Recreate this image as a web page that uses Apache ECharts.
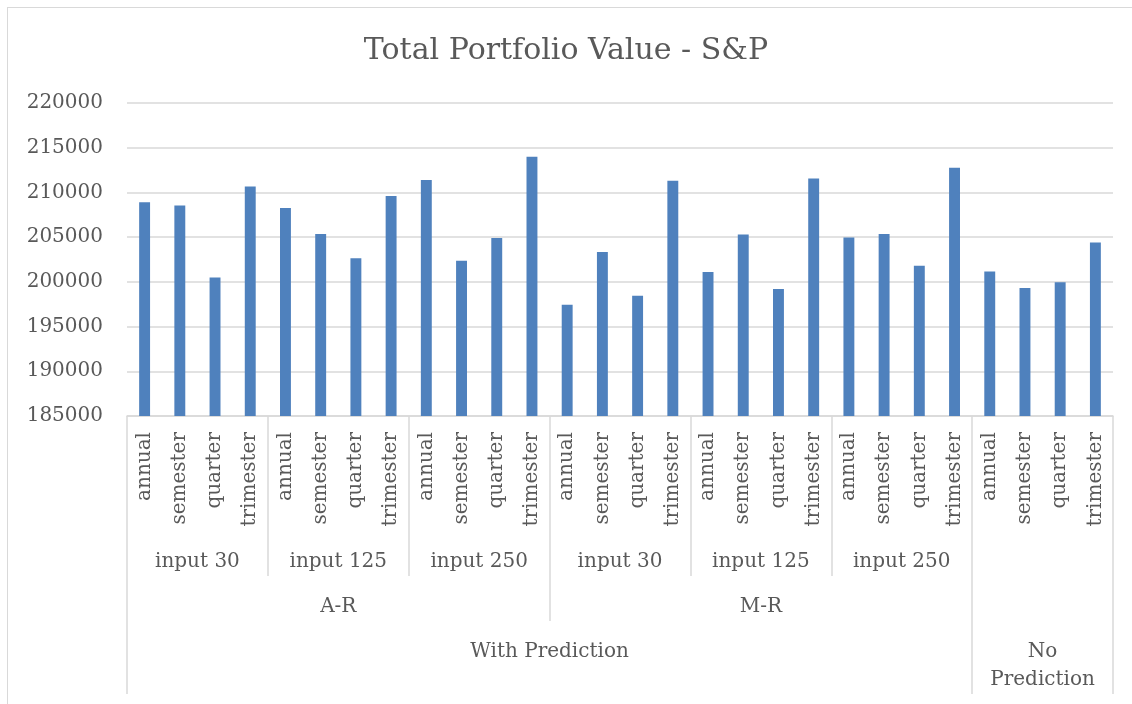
<!doctype html>
<html>

<head>
    <meta charset="utf-8">
    <title>Total Portfolio Value - S&amp;P</title>
    <style>
        html, body {
            margin: 0;
            padding: 0;
            background: #fff;
        }

        #frame {
            position: absolute;
            left: 7px;
            top: 7px;
            width: 1140px;
            height: 720px;
            border-left: 1px solid #d9d9d9;
            border-top: 1px solid #d9d9d9;
        }

        #chart {
            position: absolute;
            left: 0;
            top: 0;
            width: 1132px;
            height: 704px;
        }
    </style>
</head>

<body>
    <div id="frame"></div>
    <div id="chart"></div>
    <script src="https://cdn.jsdelivr.net/npm/echarts@6/dist/echarts.min.js"></script>
    <script>
        // bottom level: the frequency of each bar
        var periods = ['annual', 'semester', 'quarter', 'trimester',
            'annual', 'semester', 'quarter', 'trimester',
            'annual', 'semester', 'quarter', 'trimester',
            'annual', 'semester', 'quarter', 'trimester',
            'annual', 'semester', 'quarter', 'trimester',
            'annual', 'semester', 'quarter', 'trimester',
            'annual', 'semester', 'quarter', 'trimester'];

        // upper levels of the category axis, with how many bars each one covers
        var inputs = ['input 30', 'input 125', 'input 250', 'input 30', 'input 125', 'input 250', ''];
        var inputSpans = [4, 4, 4, 4, 4, 4, 4];
        var models = ['A-R', 'M-R', ''];
        var modelSpans = [12, 12, 4];
        var modes = ['With Prediction', 'No\nPrediction'];
        var modeSpans = [24, 4];

        // values
        var values = [
            208900, 208550, 200500, 210650,
            208250, 205350, 202650, 209600,
            211400, 202350, 204900, 214000,
            197450, 203350, 198450, 211300,
            201100, 205300, 199200, 211550,
            204950, 205350, 201800, 212750,
            201150, 199300, 199950, 204400
        ];

        var textColor = '#595959';
        var lineColor = '#d9d9d9';
        var font = '"DejaVu Serif", serif';

        // one extra axis per level: points 0..28, labels at group centres, ticks at group edges
        var levelAxis = function (labels, spans, tickLen, margin, lineHeight) {
            var n = periods.length;
            var names = [];
            var edges = {};
            for (var i = 0; i <= n; i++) names.push('');
            var pos = 0;
            edges[0] = true;
            for (var j = 0; j < labels.length; j++) {
                names[pos + spans[j] / 2] = labels[j];
                pos += spans[j];
                edges[pos] = true;
            }
            return {
                type: 'category',
                position: 'bottom',
                boundaryGap: false,
                data: names.map(function (s, k) { return 'p' + k; }),
                axisLine: { show: false },
                axisTick: {
                    show: true,
                    length: tickLen,
                    interval: function (idx) { return !!edges[idx]; },
                    lineStyle: { color: lineColor, width: 1.5 }
                },
                axisLabel: {
                    interval: 0,
                    margin: margin,
                    color: textColor,
                    fontFamily: font,
                    fontSize: 20,
                    lineHeight: lineHeight,
                    formatter: function (v, idx) { return names[idx]; }
                },
                splitLine: { show: false }
            };
        };

        var myChart = echarts.init(document.getElementById('chart'));
        var option = {
            animation: false,
            title: {
                text: 'Total Portfolio Value - S&P',
                left: 'center',
                top: 36,
                padding: 0,
                textStyle: {
                    color: textColor,
                    fontFamily: font,
                    fontSize: 30,
                    fontWeight: 'normal'
                }
            },
            grid: {
                left: 127,
                right: 19,
                top: 103,
                bottom: 288,
                outerBoundsMode: 'none'
            },
            xAxis: [
                {
                    type: 'category',
                    position: 'bottom',
                    data: periods,
                    axisLine: { show: true, lineStyle: { color: lineColor, width: 1.5 } },
                    axisTick: {
                        show: true,
                        length: 160,
                        interval: function (idx) { return idx % 4 === 0; },
                        lineStyle: { color: lineColor, width: 1.5 }
                    },
                    axisLabel: {
                        interval: 0,
                        rotate: 90,
                        margin: 16,
                        color: textColor,
                        fontFamily: font,
                        fontSize: 20
                    }
                },
                levelAxis(inputs, inputSpans, 160, 136, 20),
                levelAxis(models, modelSpans, 205, 181, 20),
                levelAxis(modes, modeSpans, 278, 222, 28)
            ],
            yAxis: {
                type: 'value',
                min: 185000,
                max: 220000,
                interval: 5000,
                axisLine: { show: false },
                axisTick: { show: false },
                axisLabel: {
                    margin: 24,
                    color: textColor,
                    fontFamily: font,
                    fontSize: 20,
                    formatter: function (v) { return String(v); }
                },
                splitLine: { lineStyle: { color: lineColor, width: 1.5 } }
            },
            series: [
                {
                    type: 'bar',
                    xAxisIndex: 0,
                    data: values,
                    barWidth: '31%',
                    itemStyle: { color: '#4f81bd' }
                }
            ]
        };
        myChart.setOption(option);
    </script>
</body>

</html>
